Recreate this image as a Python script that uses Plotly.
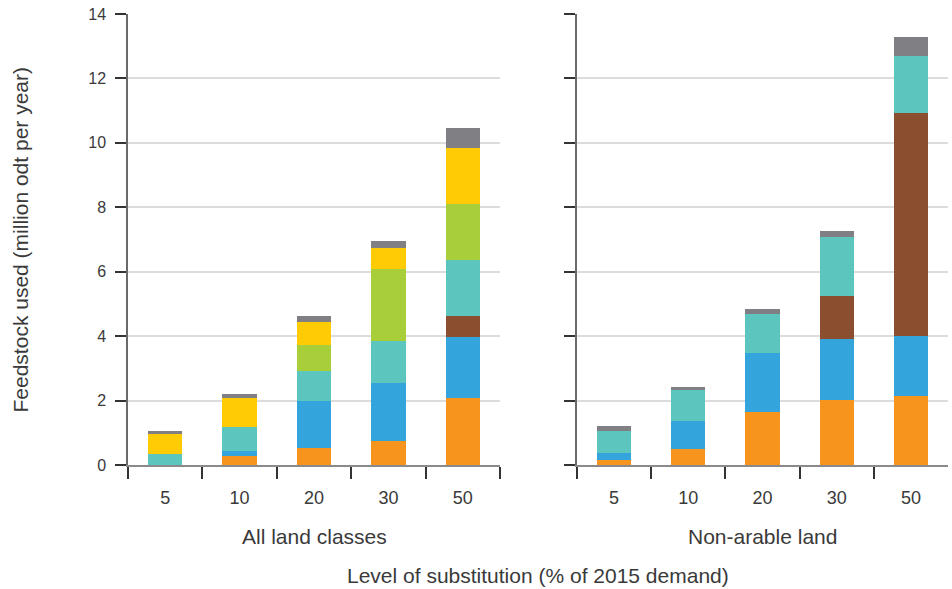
import plotly.graph_objects as go

categories = ["5", "10", "20", "30", "50"]
panel_titles = ["All land classes", "Non-arable land"]
series_names = ["Series 1", "Series 2", "Series 3", "Series 4", "Series 5", "Series 6", "Series 7"]
series_colors = ["#F7941D", "#34A4DC", "#8B4E2E", "#5BC5BE", "#A8CF3A", "#FFCB05", "#808084"]

# All land classes (bottom to top)
all_orange = [0.00, 0.28, 0.53, 0.75, 2.08]
all_blue = [0.00, 0.15, 1.46, 1.80, 1.89]
all_brown = [0.00, 0.00, 0.00, 0.00, 0.65]
all_teal = [0.34, 0.75, 0.93, 1.30, 1.74]
all_green = [0.00, 0.00, 0.81, 2.24, 1.74]
all_yellow = [0.62, 0.90, 0.71, 0.65, 1.74]
all_gray = [0.09, 0.12, 0.19, 0.22, 0.62]

# Non-arable land (bottom to top)
na_orange = [0.15, 0.50, 1.65, 2.02, 2.14]
na_blue = [0.22, 0.87, 1.83, 1.89, 1.86]
na_brown = [0.00, 0.00, 0.00, 1.34, 6.93]
na_teal = [0.68, 0.96, 1.21, 1.83, 1.77]
na_green = [0.00, 0.00, 0.00, 0.00, 0.00]
na_yellow = [0.00, 0.00, 0.00, 0.00, 0.00]
na_gray = [0.15, 0.09, 0.15, 0.19, 0.59]

y_ticks = [0, 2, 4, 6, 8, 10, 12, 14]

all_series = [all_orange, all_blue, all_brown, all_teal, all_green, all_yellow, all_gray]
na_series = [na_orange, na_blue, na_brown, na_teal, na_green, na_yellow, na_gray]

FONT = "Liberation Sans, Arial, sans-serif"
TXT = "#3a3a3a"

fig = go.Figure()
for name, color, vals in zip(series_names, series_colors, all_series):
    fig.add_trace(go.Bar(x=categories, y=vals, name=name, marker_color=color,
                         marker_line_width=0, xaxis="x", yaxis="y", showlegend=False))
for name, color, vals in zip(series_names, series_colors, na_series):
    fig.add_trace(go.Bar(x=categories, y=vals, name=name, marker_color=color,
                         marker_line_width=0, xaxis="x2", yaxis="y2", showlegend=False))

W, H = 952, 589
ml, mr, mt, mb = 128, 4, 14, 124
pw = W - ml - mr
ph = H - mt - mb
d1 = [0, (500 - ml) / pw]
d2 = [(577 - ml) / pw, 1]

xcommon = dict(type="category", tickson="boundaries", ticks="outside", ticklen=12,
               tickwidth=1.5, tickcolor="#333", showline=True, linecolor="#8a8a8a",
               linewidth=2, showgrid=False, zeroline=False, ticklabelstandoff=15,
               tickfont=dict(family=FONT, size=18, color=TXT), range=[-0.5, 4.5])
ycommon = dict(range=[0, 14], tickvals=y_ticks, ticks="outside", ticklen=11,
               tickwidth=1.5, tickcolor="#333", showline=True, linecolor="#6a6a6a",
               linewidth=1.5, showgrid=True, gridcolor="#dcdcdc", gridwidth=1.5,
               zeroline=False, ticklabelstandoff=6,
               tickfont=dict(family=FONT, size=16, color=TXT))

title_font = dict(family=FONT, size=21, color=TXT)

fig.update_layout(
    width=W, height=H, margin=dict(l=ml, r=mr, t=mt, b=mb),
    barmode="stack", bargap=0.54,
    plot_bgcolor="white", paper_bgcolor="white",
    font=dict(family=FONT, size=17, color=TXT),
    xaxis=dict(domain=d1, anchor="y", **xcommon),
    xaxis2=dict(domain=d2, anchor="y2", **xcommon),
    yaxis=dict(anchor="x", **ycommon),
    yaxis2=dict(anchor="x2", showticklabels=False, **ycommon),
    annotations=[
        dict(text=panel_titles[0], x=(d1[0] + d1[1]) / 2, y=(465 - 536) / ph,
             xref="paper", yref="paper", showarrow=False, font=title_font,
             xanchor="center", yanchor="middle"),
        dict(text=panel_titles[1], x=(d2[0] + d2[1]) / 2, y=(465 - 536) / ph,
             xref="paper", yref="paper", showarrow=False, font=title_font,
             xanchor="center", yanchor="middle"),
        dict(text="Level of substitution (% of 2015 demand)", x=(538 - ml) / pw,
             y=(465 - 575) / ph, xref="paper", yref="paper", showarrow=False,
             font=title_font, xanchor="center", yanchor="middle"),
        dict(text="Feedstock used (million odt per year)", x=(20 - ml) / pw, y=0.5,
             xref="paper", yref="paper", showarrow=False, textangle=-90,
             font=title_font, xanchor="center", yanchor="middle"),
    ],
)

fig.write_html("out.html", config={"displayModeBar": False},
               post_script="document.body.style.margin='0';document.body.style.overflow='hidden';")
